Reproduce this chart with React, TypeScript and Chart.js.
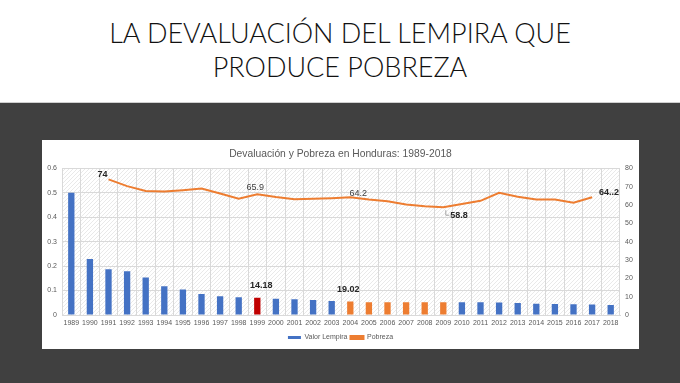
import React, { useEffect, useRef } from "react";
import { Chart, registerables } from "chart.js";

Chart.register(...registerables);

// ---------- DATA ----------
const years = [
  "1989", "1990", "1991", "1992", "1993", "1994", "1995", "1996", "1997", "1998",
  "1999", "2000", "2001", "2002", "2003", "2004", "2005", "2006", "2007", "2008",
  "2009", "2010", "2011", "2012", "2013", "2014", "2015", "2016", "2017", "2018",
];

// Valor del Lempira (US$ por Lempira)
const lempiraValue = [
  0.5, 0.229, 0.187, 0.179, 0.153, 0.118, 0.104, 0.086, 0.077, 0.073,
  0.0705, 0.066, 0.064, 0.061, 0.057, 0.055, 0.0526, 0.0526, 0.0526, 0.0526,
  0.0526, 0.0526, 0.0525, 0.051, 0.049, 0.046, 0.045, 0.044, 0.043, 0.041,
];

// Pobreza (%)
const povertyRate = [
  null, null, 74, 70.3, 67.6, 67.4, 68.1, 69, 66.3, 63.4,
  65.9, 64.4, 63.2, 63.4, 63.7, 64.2, 63, 62.1, 60.3, 59.3,
  58.8, 60.6, 62.3, 66.7, 64.5, 63, 63, 61.2, 64.2, null,
];

const redYears = ["1999"];
const orangeYears = ["2004", "2005", "2006", "2007", "2008", "2009"];

const povertyLabelYears = ["1991", "1999", "2004", "2009", "2017"];
const povertyLabelTexts = ["74", "65.9", "64.2", "58.8", "64..2"];
const barLabelYears = ["1999", "2004"];
const barLabelTexts = ["14.18", "19.02"];

const leftTicks = [0, 0.1, 0.2, 0.3, 0.4, 0.5, 0.6];
const rightTicks = [0, 10, 20, 30, 40, 50, 60, 70, 80];

// ---------- STYLE ----------
const BLUE = "#4472C4";
const RED = "#C00000";
const ORANGE = "#ED7D31";
const TEXT = "#595959";
const GRID = "#d9d9d9";

// label offsets (px) relative to the mark
const povertyLabelStyle: Record<string, { dx: number; dy: number; bold: boolean; leader?: boolean; align: CanvasTextAlign }> = {
  "1991": { dx: -6, dy: -5, bold: true, align: "center" },
  "1999": { dx: -2, dy: -7, bold: false, align: "center" },
  "2004": { dx: 8, dy: -4, bold: false, align: "center" },
  "2009": { dx: 7, dy: 8, bold: true, leader: true, align: "left" },
  "2017": { dx: 7, dy: -5, bold: true, align: "left" },
};
const barLabelStyle: Record<string, { dx: number; dy: number }> = {
  "1999": { dx: 4, dy: -12 },
  "2004": { dx: -2, dy: -12 },
};

function makePattern(ctx: CanvasRenderingContext2D) {
  const c = document.createElement("canvas");
  c.width = 4;
  c.height = 4;
  const p = c.getContext("2d")!;
  p.fillStyle = "#ffffff";
  p.fillRect(0, 0, 4, 4);
  p.fillStyle = "#e9e9e9";
  for (let i = 0; i < 4; i++) p.fillRect(i, 3 - i, 1, 1);
  return ctx.createPattern(c, "repeat");
}

const backgroundPlugin = {
  id: "hatchBg",
  beforeDraw(chart: any) {
    const { ctx, chartArea } = chart;
    if (!chartArea) return;
    const pat = makePattern(ctx);
    ctx.save();
    ctx.fillStyle = pat || "#f4f4f4";
    ctx.fillRect(chartArea.left, chartArea.top, chartArea.right - chartArea.left, chartArea.bottom - chartArea.top);
    ctx.restore();
  },
};

const labelPlugin = {
  id: "valueLabels",
  afterDatasetsDraw(chart: any) {
    const ctx = chart.ctx as CanvasRenderingContext2D;
    const barMeta = chart.getDatasetMeta(0);
    const lineMeta = chart.getDatasetMeta(1);
    ctx.save();
    ctx.textBaseline = "middle";
    povertyLabelYears.forEach((y, i) => {
      const idx = years.indexOf(y);
      const el = lineMeta.data[idx];
      if (!el) return;
      const st = povertyLabelStyle[y];
      ctx.font = `${st.bold ? "bold " : ""}9px "Liberation Sans", Arial, sans-serif`;
      ctx.fillStyle = st.bold ? "#262626" : "#404040";
      ctx.textAlign = st.align;
      ctx.fillText(povertyLabelTexts[i], el.x + st.dx, el.y + st.dy);
      if (st.leader) {
        ctx.strokeStyle = "#a6a6a6";
        ctx.lineWidth = 1;
        ctx.beginPath();
        ctx.moveTo(el.x + 2.5, el.y + 3);
        ctx.lineTo(el.x + 2.5, el.y + st.dy);
        ctx.lineTo(el.x + st.dx - 1, el.y + st.dy);
        ctx.stroke();
      }
    });
    barLabelYears.forEach((y, i) => {
      const idx = years.indexOf(y);
      const el = barMeta.data[idx];
      if (!el) return;
      const st = barLabelStyle[y];
      ctx.font = `bold 9px "Liberation Sans", Arial, sans-serif`;
      ctx.fillStyle = "#262626";
      ctx.textAlign = "center";
      ctx.fillText(barLabelTexts[i], el.x + st.dx, el.y + st.dy);
    });
    ctx.restore();
  },
};

function barColor(ctx: any) {
  const y = years[ctx.dataIndex];
  if (redYears.includes(y)) return RED;
  if (orangeYears.includes(y)) return ORANGE;
  return BLUE;
}

function ChartBox() {
  const ref = useRef<HTMLCanvasElement | null>(null);
  useEffect(() => {
    if (!ref.current) return;
    const tickFont = { family: '"Liberation Sans", Arial, sans-serif', size: 7 };
    const chart = new Chart(ref.current, {
      type: "bar",
      data: {
        labels: years,
        datasets: [
          {
            type: "bar",
            label: "Valor Lempira",
            data: lempiraValue,
            backgroundColor: barColor as any,
            borderWidth: 0,
            barPercentage: 0.34,
            categoryPercentage: 1,
            yAxisID: "y",
          },
          {
            type: "line",
            label: "Pobreza",
            data: povertyRate as any,
            borderColor: ORANGE,
            backgroundColor: ORANGE,
            borderWidth: 2,
            pointRadius: 0,
            tension: 0,
            spanGaps: false,
            yAxisID: "y1",
          },
        ],
      },
      options: {
        responsive: false,
        animation: false,
        layout: { padding: { left: 0, right: 0, top: 0, bottom: 0 } },
        plugins: {
          tooltip: { enabled: false },
          title: {
            display: true,
            text: "Devaluación y Pobreza en Honduras: 1989-2018",
            color: TEXT,
            font: { family: '"Liberation Sans", Arial, sans-serif', size: 10.3, weight: "normal" as any },
            padding: { top: 8, bottom: 8 },
          },
          legend: {
            display: true,
            position: "bottom",
            maxHeight: 18,
            labels: {
              color: TEXT,
              font: tickFont,
              boxWidth: 13,
              boxHeight: 3,
              padding: 3,
            },
          },
        },
        scales: {
          x: {
            type: "category",
            offset: true,
            afterFit: (s: any) => {
              s.height = 16;
            },
            grid: { offset: true, color: GRID, drawTicks: false },
            border: { display: true, color: GRID },
            ticks: { color: TEXT, font: tickFont, padding: 4, maxRotation: 0, autoSkip: false },
          },
          y: {
            position: "left",
            min: 0,
            max: 0.6,
            afterBuildTicks: (s: any) => {
              s.ticks = leftTicks.map((v) => ({ value: v }));
            },
            afterFit: (s: any) => {
              s.width = 20;
            },
            grid: { color: GRID, drawTicks: false },
            border: { display: false },
            ticks: { color: TEXT, font: tickFont, padding: 5 },
          },
          y1: {
            position: "right",
            min: 0,
            max: 80,
            afterBuildTicks: (s: any) => {
              s.ticks = rightTicks.map((v) => ({ value: v }));
            },
            afterFit: (s: any) => {
              s.width = 19;
            },
            grid: { drawOnChartArea: false, drawTicks: false },
            border: { display: false },
            ticks: { color: TEXT, font: tickFont, padding: 5 },
          },
        },
      },
      plugins: [backgroundPlugin, labelPlugin],
    } as any);
    return () => chart.destroy();
  }, []);
  return <canvas ref={ref} width={597} height={209} style={{ display: "block", width: 597, height: 209 }} />;
}

export default function App() {
  return (
    <div
      style={{
        position: "fixed",
        left: 0,
        top: 0,
        width: 680,
        height: 383,
        background: "#ffffff",
        overflow: "hidden",
      }}
    >
      <div
        style={{
          position: "absolute",
          left: 0,
          top: 16,
          width: 680,
          textAlign: "center",
          fontFamily: '"Lato", "Open Sans", sans-serif',
          fontWeight: 300,
          fontSize: 27,
          lineHeight: "34px",
          color: "#111111",
        }}
      >
        <div>LA DEVALUACIÓN DEL LEMPIRA QUE</div>
        <div>PRODUCE POBREZA</div>
      </div>
      <div style={{ position: "absolute", left: 0, top: 102, width: 680, height: 1, background: "#cfcfcf" }} />
      <div style={{ position: "absolute", left: 0, top: 103, width: 680, height: 280, background: "#404040" }} />
      <div
        style={{
          position: "absolute",
          left: 42,
          top: 140,
          width: 597,
          height: 209,
          background: "#ffffff",
        }}
      >
        <ChartBox />
      </div>
    </div>
  );
}
